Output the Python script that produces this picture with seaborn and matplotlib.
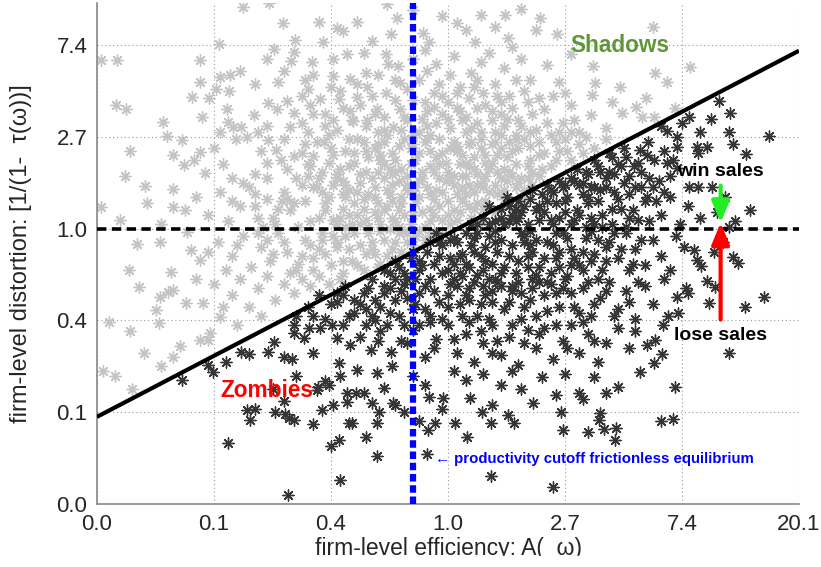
import numpy as np
import pandas as pd
import matplotlib
matplotlib.use("Agg")
import matplotlib.pyplot as plt
import seaborn as sns

# log-units: x = ln A(omega), y = ln 1/(1-tau(omega))
# firms above the cutoff line ("Shadows" side), drawn light gray
light_pts = [
    (-1.75, 2.42), (-1.53, 2.46), (-0.52, 2.45), (-1.41, 2.24), (-1.10, 2.25), (-0.78, 2.25),
    (-0.95, 2.19), (-0.90, 2.15), (-0.44, 2.30), (-0.49, 2.12), (-1.31, 2.06), (-1.07, 2.03),
    (-1.96, 2.01), (0.28, 2.33), (0.49, 2.33), (0.79, 2.30), (0.08, 2.24), (0.15, 2.17),
    (0.93, 2.12), (0.75, 2.17), (0.51, 2.08), (-0.21, 2.13), (0.23, 2.03), (-0.16, 2.03),
    (1.75, 2.20), (-0.30, 2.38), (0.62, 2.40), (-0.65, 2.05), (0.40, 2.20), (-0.05, 2.32),
    (-1.49, 1.96), (-1.32, 1.93), (-1.55, 1.85), (-1.34, 1.83), (-1.16, 1.82), (-0.98, 1.85),
    (-0.86, 1.90), (-0.72, 1.92), (-0.53, 1.90), (-0.51, 1.79), (-0.43, 1.77), (-2.12, 1.84),
    (-2.97, 1.84), (-2.83, 1.84), (-2.12, 1.60), (-1.95, 1.65), (-1.86, 1.68), (-1.78, 1.72),
    (-1.98, 1.52), (-1.87, 1.50), (-1.20, 1.52), (-0.84, 1.63), (-0.98, 1.66), (-1.15, 1.68),
    (-0.69, 1.54), (-0.41, 1.59), (1.24, 1.77), (1.26, 1.59), (2.07, 1.76), (1.77, 1.70),
    (1.87, 1.60), (1.47, 1.54), (-0.20, 1.95), (-0.10, 1.80), (0.05, 1.88), (0.20, 1.70),
    (0.35, 1.92), (0.48, 1.75), (0.62, 1.85), (0.70, 1.62), (0.85, 1.78), (0.95, 1.60),
    (1.05, 1.90), (-0.25, 1.62), (0.10, 1.55), (0.40, 1.58), (-0.60, 1.68), (-1.65, 1.58),
    (-1.40, 1.72), (0.55, 1.98), (-0.30, 1.85), (0.28, 1.82),
    (-2.84, 1.35), (-2.75, 1.30), (-2.44, 1.16), (-2.40, 1.01), (-2.19, 1.44), (-2.04, 1.42),
    (-1.89, 1.30), (-1.88, 1.16), (-1.84, 1.11), (-1.77, 1.11), (-1.66, 1.24), (-1.62, 1.05),
    (-1.54, 1.37), (-1.46, 1.30), (-1.38, 1.39), (-1.32, 1.26), (-1.35, 1.11), (-0.98, 1.19),
    (-0.84, 1.28), (-0.81, 1.17), (-0.69, 1.19), (-0.61, 1.30), (-0.53, 1.48), (-1.09, 1.41),
    (-0.93, 1.41), (-0.78, 1.44), (-0.41, 1.30), (-0.47, 1.11), (1.69, 1.43), (1.61, 1.33),
    (1.49, 1.26), (1.23, 1.46), (1.22, 1.24), (1.76, 1.22), (1.94, 1.32), (1.66, 1.22),
    (-0.30, 1.40), (-0.22, 1.20), (-0.12, 1.33), (-0.05, 1.45), (0.02, 1.10), (0.10, 1.28),
    (0.18, 1.42), (0.25, 1.15), (0.32, 1.35), (0.40, 1.05), (0.45, 1.25), (0.52, 1.45),
    (0.60, 1.18), (0.68, 1.38), (0.75, 1.08), (0.82, 1.30), (0.90, 1.45), (0.98, 1.15),
    (1.05, 1.35), (1.12, 1.05), (1.35, 1.10), (1.40, 1.38), (-0.15, 1.02), (-0.35, 1.18),
    (0.08, 1.48), (0.30, 1.48), (0.58, 1.02), (0.88, 1.02), (1.00, 1.48), (-1.20, 1.05),
    (-1.05, 1.25), (-0.60, 1.05), (-1.18, 1.35), (-0.25, 1.05), (0.15, 1.05), (0.72, 1.25),
    (-2.10, 1.22), (-1.95, 1.05),
    (-2.72, 0.85), (-2.76, 0.57), (-2.35, 0.80), (-2.27, 0.97), (-2.26, 0.69), (-2.17, 0.75),
    (-2.12, 0.84), (-2.08, 0.61), (-1.92, 0.70), (-1.81, 0.98), (-1.72, 1.00), (-1.54, 0.97),
    (-1.47, 0.86), (-1.43, 0.75), (-1.32, 0.79), (-1.22, 0.92), (-1.15, 0.79), (-1.18, 0.68),
    (-1.06, 0.94), (-0.95, 0.60), (-0.88, 0.85), (-0.80, 0.72), (-0.72, 0.95), (-0.65, 0.55),
    (-0.58, 0.80), (-0.50, 0.65), (-0.42, 0.90), (-0.35, 0.58), (-0.28, 0.75), (-0.20, 0.95),
    (-0.12, 0.62), (-0.05, 0.82), (0.02, 0.55), (0.10, 0.70), (0.18, 0.92), (0.25, 0.60),
    (0.32, 0.80), (0.40, 0.95), (0.48, 0.65), (0.55, 0.85), (0.62, 0.55), (0.70, 0.75),
    (0.78, 0.95), (0.88, 0.68), (0.95, 0.85), (1.05, 0.75), (1.12, 0.92), (1.25, 0.88),
    (1.35, 0.98), (-1.65, 0.60), (-1.55, 0.72), (-1.85, 0.55), (-2.00, 0.88), (-1.02, 0.72),
    (-0.90, 0.52), (-0.75, 0.60), (-0.62, 0.88), (-0.45, 0.75), (-0.38, 0.98), (-0.25, 0.52),
    (-0.15, 0.85), (0.05, 0.95), (0.15, 0.58), (0.22, 0.78), (0.35, 0.65), (0.45, 0.88),
    (0.58, 0.70), (0.65, 0.98), (0.72, 0.62), (0.82, 0.82), (1.00, 0.98), (-0.55, 0.95),
    (-0.85, 0.98), (-1.30, 0.55), (-1.10, 0.55), (0.30, 0.52), (0.50, 0.52), (-0.08, 0.70),
    (-2.59, 0.47), (-2.35, 0.43), (-2.97, 0.24), (-2.35, 0.24), (-2.57, 0.28), (-2.80, 0.10),
    (-2.45, 0.05), (-2.15, 0.35), (-2.05, 0.15), (-1.95, 0.40), (-1.88, 0.08), (-1.78, 0.25),
    (-1.70, 0.45), (-1.62, 0.12), (-1.55, 0.32), (-1.48, 0.05), (-1.40, 0.40), (-1.35, 0.20),
    (-1.28, 0.02), (-1.22, 0.30), (-1.15, 0.45), (-1.10, 0.12), (-1.02, 0.35), (-0.95, 0.05),
    (-0.90, 0.22), (-0.85, 0.42), (-0.78, 0.15), (-0.72, 0.32), (-0.68, 0.02), (-0.62, 0.45),
    (-0.55, 0.20), (-0.50, 0.38), (-0.45, 0.08), (-0.40, 0.28), (-0.35, 0.48), (-0.30, 0.15),
    (-0.25, 0.35), (-0.20, 0.02), (-0.15, 0.22), (-0.10, 0.42), (-0.05, 0.10), (0.00, 0.30),
    (0.05, 0.48), (0.10, 0.18), (0.15, 0.38), (0.20, 0.12), (0.25, 0.28), (0.30, 0.45),
    (0.35, 0.25), (0.42, 0.38), (0.50, 0.32), (0.58, 0.45), (0.65, 0.42), (0.72, 0.48),
    (-1.85, 0.30), (-1.65, 0.38), (-1.45, 0.22), (-1.25, 0.48), (-1.05, 0.20), (-0.82, 0.05),
    (-0.60, 0.28), (-0.38, 0.15), (-0.18, 0.45), (0.02, 0.05), (0.18, 0.48), (0.40, 0.18),
    (-2.25, 0.20), (-1.58, 0.02), (-0.98, 0.48), (-0.48, 0.48), (0.28, 0.08),
    (-2.66, -0.17), (-2.46, -0.14), (-2.20, -0.23), (-2.12, -0.34), (-1.97, -0.15), (-2.23, -0.04),
    (-2.37, -0.47), (-2.73, -0.45), (-1.85, -0.30), (-1.75, -0.08), (-1.68, -0.42), (-1.60, -0.20),
    (-1.52, -0.35), (-1.45, -0.05), (-1.38, -0.25), (-1.30, -0.45), (-1.22, -0.12), (-1.15, -0.32),
    (-1.08, -0.05), (-1.00, -0.40), (-0.95, -0.20), (-0.88, -0.08), (-0.82, -0.35), (-0.75, -0.18),
    (-0.68, -0.05), (-0.62, -0.28), (-0.55, -0.12), (-0.48, -0.22), (-0.42, -0.05), (-0.35, -0.15),
    (-0.28, -0.08), (-0.20, -0.12), (-0.12, -0.04), (-0.05, -0.06), (-0.72, -0.45), (-0.90, -0.48),
    (-1.10, -0.22), (-1.35, -0.48), (-1.55, -0.12), (-1.90, -0.45), (-2.05, -0.25), (-0.58, -0.38),
    (-0.40, -0.25), (-1.25, -0.30),
    (-2.64, -0.64), (-2.39, -0.69), (-2.46, -0.74), (-2.50, -0.89), (-2.35, -0.67), (-2.24, -0.81),
    (-2.09, -0.81), (-1.95, -0.96), (-2.00, -0.60), (-1.85, -0.72), (-1.78, -0.55), (-1.70, -0.85),
    (-1.62, -0.65), (-1.55, -0.52), (-1.48, -0.78), (-1.40, -0.60), (-1.32, -0.70), (-1.25, -0.55),
    (-1.18, -0.62), (-1.10, -0.52), (-1.02, -0.60), (-0.92, -0.55), (-1.60, -0.95), (-2.15, -0.55),
    (-1.92, -0.85),
    (-2.90, -1.02), (-2.72, -1.12), (-2.47, -1.03), (-2.29, -1.28), (-2.12, -1.21), (-2.05, -1.21),
    (-2.03, -1.14), (-1.80, -1.05), (-2.60, -1.35), (-2.85, -1.60), (-2.45, -1.50), (-2.70, -1.75),
    (-2.95, -1.55), (-2.35, -1.40),
]

# extra light points where the gray cloud is densest
light_core = [
    (-1.25, 1.45), (-1.00, 1.55), (-0.75, 1.35), (-0.55, 1.22), (-0.35, 1.52), (-0.18, 1.28),
    (0.00, 1.38), (0.12, 1.18), (0.22, 1.55), (0.38, 1.28), (0.55, 1.32), (0.65, 1.50),
    (-0.45, 1.40), (-0.65, 1.45), (-0.90, 1.32), (-0.08, 1.58), (0.48, 1.12), (0.78, 1.42),
    (-1.45, 1.60), (-1.22, 1.62), (-0.92, 1.50), (-0.70, 1.70), (-0.45, 1.62), (-0.18, 1.72),
    (0.02, 1.68), (0.25, 1.62), (0.42, 1.45), (0.58, 1.62), (-0.12, 1.48), (-0.78, 1.58),
    (-1.40, 0.98), (-1.25, 1.15), (-1.12, 0.95), (-0.95, 1.08), (-0.78, 0.98), (-0.70, 1.12),
    (-0.52, 1.02), (-0.40, 1.08), (-0.30, 0.92), (-0.18, 1.12), (-0.08, 0.98), (0.00, 1.20),
    (0.08, 0.90), (0.20, 1.10), (0.28, 0.98), (0.38, 1.18), (0.52, 0.95), (0.62, 1.12),
    (0.70, 0.90), (0.85, 1.15), (0.95, 1.05), (1.08, 1.18), (1.18, 1.00), (-1.55, 1.12),
    (-1.05, 1.12), (-0.60, 0.92), (0.15, 1.22), (0.45, 1.02),
    (-1.60, 0.85), (-1.38, 0.65), (-1.25, 0.82), (-1.08, 0.62), (-0.98, 0.80), (-0.85, 0.68),
    (-0.70, 0.85), (-0.60, 0.62), (-0.48, 0.82), (-0.40, 0.65), (-0.32, 0.88), (-0.22, 0.62),
    (-0.10, 0.78), (0.00, 0.62), (0.08, 0.85), (0.18, 0.68), (0.28, 0.88), (0.38, 0.72),
    (0.50, 0.78), (0.60, 0.88), (0.68, 0.68), (0.78, 0.80), (0.92, 0.75), (1.02, 0.85),
    (1.15, 0.82), (-0.80, 0.82), (-0.55, 0.70), (-0.15, 0.68), (0.12, 0.80), (0.42, 0.62),
    (-1.75, 0.50), (-1.55, 0.55), (-1.38, 0.32), (-1.20, 0.58), (-1.08, 0.40), (-0.95, 0.55),
    (-0.88, 0.35), (-0.75, 0.50), (-0.68, 0.38), (-0.55, 0.55), (-0.48, 0.30), (-0.42, 0.52),
    (-0.30, 0.38), (-0.22, 0.55), (-0.12, 0.32), (-0.02, 0.52), (0.08, 0.38), (0.12, 0.58),
    (0.22, 0.40), (0.32, 0.58), (0.40, 0.48), (0.48, 0.42), (0.55, 0.58), (0.62, 0.35),
    (0.68, 0.55), (0.78, 0.58), (-0.62, 0.35), (-0.35, 0.42), (-0.05, 0.40), (0.25, 0.48),
    (-1.65, 0.25), (-1.50, 0.12), (-1.32, 0.28), (-1.18, 0.08), (-1.05, 0.28), (-0.92, 0.12),
    (-0.80, 0.28), (-0.70, 0.10), (-0.58, 0.05), (-0.52, 0.25), (-0.42, 0.20), (-0.32, 0.05),
    (-0.28, 0.28), (-0.15, 0.08), (-0.08, 0.25), (0.05, 0.20), (0.12, 0.30), (0.22, 0.22),
    (0.32, 0.30), (0.08, 0.10), (-0.48, 0.12), (-0.62, 0.18), (-0.88, 0.02), (-1.42, 0.30),
    (-1.40, -0.15), (-1.28, -0.38), (-1.18, -0.18), (-1.05, -0.28), (-0.98, -0.08), (-0.85, -0.22),
    (-0.78, -0.40), (-0.70, -0.28), (-0.65, -0.15), (-0.58, -0.02), (-0.52, -0.30), (-0.45, -0.15),
    (-0.38, -0.02), (-0.30, -0.18), (-0.25, -0.02), (-0.15, -0.08), (-0.60, -0.42), (-0.90, -0.35),
    (-1.15, -0.45), (-1.50, -0.28), (-1.62, -0.05), (-1.80, -0.18),
]

# the nearly solid gray patch left of and above the crossing point
light_dense = [
    (-1.15, 1.25), (-1.00, 0.88), (-0.85, 0.15), (-0.70, 0.62), (-0.55, 1.08), (-0.40, 0.35),
    (-0.25, 0.82), (-0.10, 1.15), (0.05, 0.58), (0.20, 0.95), (0.35, 0.40), (0.50, 1.20),
    (-1.12, 0.45), (-0.98, 0.10), (-0.82, 1.18), (-0.68, 0.78), (-0.52, 0.42), (-0.38, 1.22),
    (-0.22, 0.18), (-0.08, 0.55), (0.08, 1.32), (0.22, 0.65), (0.38, 0.92), (0.52, 0.62),
    (-1.08, -0.12), (-0.92, 0.65), (-0.78, 0.40), (-0.62, 1.25), (-0.48, 0.60), (-0.32, 0.70),
    (-0.18, 0.98), (-0.02, 0.72), (0.12, 0.45), (0.28, 1.05), (0.42, 0.80), (0.58, 0.98),
    (-1.20, 0.70), (-1.02, 1.02), (-0.88, 0.48), (-0.72, 0.22), (-0.58, 0.75), (-0.42, 0.02),
    (-0.28, 0.45), (-0.12, 0.15), (0.02, 0.88), (0.18, 0.25), (0.32, 0.72), (0.48, 0.32),
    (-0.95, -0.15), (-0.80, -0.05), (-0.65, -0.22), (-0.50, 0.00), (-0.35, -0.05), (-0.60, 0.12),
    (-0.75, 0.05), (-0.90, 0.38), (-0.45, 0.62), (-0.30, 1.02), (-0.15, 0.38), (0.00, 0.15),
    (0.15, 0.72), (0.30, 0.22), (0.45, 0.55), (0.60, 0.50), (0.70, 1.05), (0.80, 0.65),
    (0.92, 0.95), (1.05, 1.05), (-0.05, 1.25), (-0.20, 1.38), (0.25, 1.32), (0.45, 1.38),
]

# firms below the cutoff line ("Zombies" side), drawn dark
dark_pts = [
    (2.32, 1.39), (2.41, 1.26), (2.06, 1.22), (2.40, 1.05), (2.74, 1.01), (2.44, 0.92),
    (2.55, 0.81), (1.87, 1.06), (1.96, 1.00), (1.96, 0.89), (2.13, 0.89), (2.21, 0.89),
    (2.14, 0.83), (1.71, 0.94), (1.64, 0.86), (1.59, 0.68), (1.76, 0.75), (1.87, 0.72),
    (1.96, 0.66), (1.40, 0.78), (1.20, 0.60), (1.05, 0.55), (1.30, 0.62), (1.50, 0.88),
    (1.82, 1.12), (2.00, 1.15), (2.25, 1.20), (2.15, 1.05), (1.10, 0.65), (1.25, 0.75),
    (1.35, 0.55), (1.45, 0.70), (1.55, 0.58), (1.65, 0.62), (1.70, 0.80), (1.80, 0.52),
    (1.90, 0.58),
    (2.06, 0.46), (2.14, 0.46), (2.26, 0.45), (2.37, 0.35), (0.20, 0.05), (0.30, 0.12),
    (0.40, 0.08), (0.45, 0.22), (0.55, 0.15), (0.60, 0.30), (0.68, 0.05), (0.75, 0.20),
    (0.80, 0.38), (0.88, 0.10), (0.92, 0.28), (0.98, 0.45), (1.05, 0.05), (1.10, 0.20),
    (1.15, 0.38), (1.22, 0.12), (1.28, 0.30), (1.35, 0.45), (1.40, 0.05), (1.48, 0.22),
    (1.55, 0.38), (1.62, 0.10), (1.68, 0.30), (1.75, 0.45), (1.82, 0.15), (1.90, 0.35),
    (1.98, 0.05), (2.05, 0.25), (2.15, 0.12), (2.30, 0.18), (2.45, 0.08), (2.58, 0.20),
    (0.50, 0.35), (0.72, 0.42), (1.00, 0.18), (1.18, 0.02), (1.52, 0.02), (1.85, 0.40),
    (0.35, 0.25), (0.85, 0.48), (1.42, 0.40), (2.40, 0.02),
    (2.44, -0.31), (2.48, -0.37), (2.16, -0.41), (2.27, -0.25), (2.10, -0.23), (2.13, -0.34),
    (-0.55, -0.45), (-0.45, -0.35), (-0.38, -0.48), (-0.30, -0.25), (-0.22, -0.40), (-0.15, -0.15),
    (-0.08, -0.30), (0.00, -0.45), (0.05, -0.10), (0.12, -0.28), (0.18, -0.42), (0.25, -0.05),
    (0.32, -0.20), (0.38, -0.38), (0.45, -0.12), (0.52, -0.30), (0.58, -0.48), (0.65, -0.08),
    (0.72, -0.25), (0.78, -0.42), (0.85, -0.15), (0.92, -0.32), (0.98, -0.05), (1.05, -0.22),
    (1.12, -0.40), (1.18, -0.10), (1.25, -0.28), (1.32, -0.45), (1.38, -0.15), (1.45, -0.32),
    (1.52, -0.05), (1.60, -0.22), (1.68, -0.40), (1.75, -0.12), (1.82, -0.30), (1.90, -0.45),
    (1.95, -0.08), (2.02, -0.20), (-0.10, -0.05), (0.20, -0.18), (0.60, -0.35), (0.88, -0.48),
    (1.22, -0.02), (1.55, -0.45), (0.40, -0.02), (-0.32, -0.32), (2.35, -0.15), (0.10, -0.48),
    (2.54, -0.85), (2.23, -0.81), (2.21, -0.57), (2.28, -0.63), (2.03, -0.65), (2.05, -0.70),
    (1.96, -0.74), (1.97, -0.92), (-1.30, -0.95), (-1.20, -0.85), (-1.10, -0.72), (-1.05, -0.98),
    (-0.95, -0.80), (-0.88, -0.62), (-0.80, -0.92), (-0.72, -0.70), (-0.65, -0.55), (-0.58, -0.85),
    (-0.50, -0.65), (-0.42, -0.95), (-0.35, -0.75), (-0.28, -0.55), (-0.20, -0.88), (-0.12, -0.68),
    (-0.05, -0.98), (0.02, -0.60), (0.10, -0.82), (0.18, -0.65), (0.25, -0.95), (0.32, -0.72),
    (0.40, -0.55), (0.48, -0.88), (0.55, -0.68), (0.62, -0.98), (0.70, -0.78), (0.78, -0.58),
    (0.85, -0.90), (0.92, -0.70), (1.00, -0.55), (1.08, -0.85), (1.15, -0.65), (1.22, -0.95),
    (1.30, -0.75), (1.38, -0.58), (1.45, -0.88), (1.52, -0.68), (1.60, -0.98), (1.68, -0.62),
    (1.75, -0.82), (1.85, -0.55), (2.70, -0.74), (0.35, -0.98), (-0.65, -0.95), (1.88, -0.95),
    (0.75, -0.95),
    (2.40, -1.35), (1.84, -1.05), (1.70, -1.27), (1.77, -1.21), (1.83, -1.37), (1.76, -1.46),
    (-1.77, -1.34), (-1.70, -1.37), (-1.54, -1.34), (-1.40, -1.40), (-1.33, -1.42), (-1.49, -1.23),
    (-1.32, -1.14), (-1.23, -1.19), (-1.15, -1.35), (-1.32, -1.05), (-1.19, -1.08), (-1.09, -1.08),
    (-0.99, -1.05), (-0.95, -1.19), (-0.84, -1.27), (-0.75, -1.18), (-0.66, -1.32), (-0.49, -1.34),
    (-0.48, -1.50), (-0.93, -1.46), (-0.30, -1.10), (-0.20, -1.40), (-0.10, -1.20), (0.00, -1.05),
    (0.08, -1.35), (0.15, -1.15), (0.22, -1.45), (0.30, -1.25), (0.38, -1.05), (0.45, -1.38),
    (0.52, -1.18), (0.60, -1.48), (0.68, -1.10), (0.75, -1.30), (0.82, -1.08), (0.90, -1.42),
    (0.98, -1.22), (1.05, -1.05), (1.12, -1.35), (1.20, -1.15), (1.28, -1.45), (1.35, -1.25),
    (1.45, -1.08), (1.55, -1.30), (1.60, -1.12), (-0.40, -1.22), (-0.58, -1.12), (-1.90, -1.45),
    (-2.05, -1.48),
    (-2.27, -1.65), (-2.01, -1.56), (-0.61, -1.57), (-0.78, -1.54), (-0.92, -1.61), (-1.05, -1.66),
    (-1.12, -1.76), (-0.86, -1.79), (-0.79, -1.79), (-0.72, -1.79), (-1.11, -1.72), (-1.02, -1.70),
    (-0.98, -1.92), (-0.86, -1.89), (-0.55, -1.74), (-0.47, -1.90), (-0.65, -1.90), (-0.45, -1.92),
    (-1.72, -1.98), (-1.65, -1.97), (-1.08, -1.98), (1.45, -1.72), (1.35, -1.79), (1.15, -1.86),
    (1.12, -1.79), (0.92, -1.81), (1.64, -1.56), (1.94, -1.72), (0.19, -1.85), (0.38, -1.92),
    (0.73, -1.90), (-0.16, -1.83), (-0.04, -1.85), (-0.05, -1.97), (-0.30, -1.60), (-0.20, -1.70),
    (0.05, -1.55), (0.15, -1.65), (0.30, -1.58), (0.45, -1.70), (0.55, -1.55), (0.62, -1.75),
    (0.80, -1.62), (1.00, -1.58), (1.25, -1.62), (-1.30, -1.60), (-1.50, -1.75), (-1.40, -1.88),
    (-1.88, -2.34), (-1.37, -2.90), (-1.69, -2.08), (-1.48, -2.00), (-1.39, -2.02), (-1.36, -2.06),
    (-1.32, -2.08), (-1.15, -2.13), (-1.00, -2.37), (-0.93, -2.30), (-0.92, -2.74), (-0.85, -2.12),
    (-0.82, -2.12), (-0.70, -2.27), (-0.61, -2.48), (-0.61, -2.12), (-0.59, -2.00), (-0.38, -2.00),
    (0.97, -2.00), (1.30, -2.01), (1.29, -2.08), (1.33, -2.18), (1.44, -2.17), (1.43, -2.30),
    (1.20, -2.21), (0.98, -2.19), (1.82, -2.09), (1.92, -2.07), (0.16, -2.27), (0.37, -2.70),
    (0.90, -2.82), (-0.18, -2.45), (-0.17, -2.19), (-0.11, -2.12), (-0.25, -2.10), (0.06, -2.12),
    (0.37, -2.12), (0.56, -2.12), (0.51, -2.03), (0.29, -2.00),
]

# extra dark points where the dark cloud is densest
dark_core = [
    (1.00, 0.48), (1.15, 0.50), (1.28, 0.68), (1.42, 0.60), (1.52, 0.78), (1.62, 0.72),
    (1.72, 0.55), (1.85, 0.85), (1.92, 0.75), (1.22, 0.45), (0.95, 0.52), (1.38, 0.82),
    (0.25, 0.05), (0.35, 0.05), (0.45, 0.12), (0.52, 0.25), (0.62, 0.18), (0.70, 0.32),
    (0.78, 0.10), (0.85, 0.30), (0.95, 0.12), (1.02, 0.35), (1.08, 0.10), (1.20, 0.28),
    (1.25, 0.45), (1.32, 0.15), (1.45, 0.32), (1.58, 0.20), (1.65, 0.45), (1.72, 0.08),
    (1.78, 0.30), (0.65, 0.25), (0.90, 0.40), (1.12, 0.48), (0.58, 0.08), (1.40, 0.22),
    (-0.50, -0.48), (-0.42, -0.42), (-0.25, -0.35), (-0.18, -0.25), (-0.05, -0.18), (0.02, -0.32),
    (0.08, -0.15), (0.15, -0.38), (0.22, -0.10), (0.28, -0.30), (0.35, -0.08), (0.42, -0.25),
    (0.48, -0.42), (0.55, -0.18), (0.62, -0.05), (0.68, -0.42), (0.75, -0.12), (0.82, -0.32),
    (0.90, -0.18), (0.95, -0.42), (1.02, -0.10), (1.08, -0.32), (1.15, -0.25), (1.28, -0.12),
    (1.35, -0.35), (1.42, -0.05), (1.48, -0.22), (1.58, -0.38), (1.65, -0.12), (0.05, -0.38),
    (0.30, -0.45), (0.70, -0.18),
    (-1.15, -0.95), (-1.00, -0.82), (-0.90, -0.72), (-0.85, -0.95), (-0.75, -0.82), (-0.68, -0.65),
    (-0.62, -0.78), (-0.55, -0.62), (-0.45, -0.78), (-0.38, -0.60), (-0.30, -0.88), (-0.25, -0.70),
    (-0.15, -0.55), (-0.08, -0.80), (0.00, -0.72), (0.05, -0.55), (0.12, -0.95), (0.15, -0.72),
    (0.22, -0.58), (0.28, -0.82), (0.38, -0.68), (0.45, -0.62), (0.52, -0.80), (0.60, -0.58),
    (0.65, -0.85), (0.72, -0.65), (0.82, -0.72), (0.88, -0.60), (0.95, -0.85), (1.05, -0.70),
    (1.12, -0.92), (1.20, -0.58), (1.25, -0.82), (1.35, -0.68), (1.42, -0.95), (1.55, -0.80),
    (1.62, -0.58), (-0.50, -0.92), (-0.95, -0.70),
    (-0.90, -1.05), (-0.70, -1.05), (-0.52, -1.05), (-0.35, -1.25), (-0.25, -1.05), (-0.12, -1.30),
    (0.05, -1.20), (0.18, -1.02), (0.28, -1.12), (0.42, -1.22), (0.55, -1.05), (0.65, -1.25),
    (0.78, -1.15), (0.92, -1.05), (1.02, -1.30), (1.15, -1.02), (1.25, -1.22), (-0.60, -1.22),
    (-0.15, -1.02), (0.38, -1.35),
]

# the nearly solid dark patch just below the crossing point
dark_dense = [
    (-0.35, -0.55), (-0.20, -0.62), (-0.05, -0.48), (0.10, -0.30), (0.25, -0.50), (0.40, -0.15),
    (0.55, -0.62), (0.70, -0.02), (0.85, -0.58), (1.00, 0.30), (1.15, -0.45), (1.30, 0.42),
    (-0.28, -0.82), (-0.12, -0.38), (0.02, -0.12), (0.18, -0.78), (0.32, -0.35), (0.48, 0.05),
    (0.62, -0.70), (0.78, 0.25), (0.92, -0.05), (1.08, 0.52), (1.22, -0.35), (1.38, 0.62),
    (-0.40, -0.68), (-0.25, -0.45), (-0.08, -0.15), (0.08, -0.62), (0.22, -0.25), (0.38, -0.80),
    (0.52, 0.08), (0.68, -0.30), (0.82, 0.18), (0.98, -0.65), (1.12, 0.15), (1.28, -0.55),
    (-0.15, -0.95), (0.00, -0.85), (0.15, -0.05), (0.30, -0.62), (0.45, -0.48), (0.60, 0.12),
    (0.75, -0.50), (0.90, 0.05), (1.05, -0.40), (1.20, 0.35), (1.35, -0.20), (1.50, 0.50),
    (-0.55, -0.70), (-0.70, -0.88), (-0.80, -0.78), (-0.45, -0.55), (-0.62, -1.00), (-0.38, -1.05),
    (0.12, -0.52), (0.42, -0.58), (0.72, -0.55), (1.02, -0.52), (1.32, 0.02), (1.55, 0.12),
    (0.58, 0.22), (0.88, 0.42), (1.18, 0.62), (1.48, 0.68), (1.60, 0.45), (1.70, 0.35),
    (0.35, -0.55), (0.65, -0.15), (0.95, -0.25), (1.25, 0.05),
]

# cutoff line end points, frictionless cutoff, arrows
cut_x = [-3.0, 3.0]
cut_y = [-2.05, 1.94]
frictionless_x = -0.30
arrow_x = 2.33
arrow_tip = 0.065
win_from = 0.47
lose_from = -0.99
ticks_x = [-3, -2, -1, 0, 1, 2, 3]
ticks_y = [-3, -2, -1, 0, 1, 2]

light = pd.DataFrame(light_pts + light_core + light_dense, columns=["x", "y"])
dark = pd.DataFrame(dark_pts + dark_core + dark_dense, columns=["x", "y"])

sns.set_style("white")
plt.rcParams['font.family'] = ['Liberation Sans', 'DejaVu Sans']

fig = plt.figure(figsize=(8.21, 5.67), dpi=100)
ax = fig.add_axes([97 / 821, 63 / 567, 702 / 821, 501 / 567])

star = (8, 2, 0)
sns.scatterplot(data=light, x="x", y="y", ax=ax, marker=star, s=64,
                color="#c4c4c4", linewidth=1.0, zorder=2)
sns.scatterplot(data=dark, x="x", y="y", ax=ax, marker=star, s=64,
                color="#353535", linewidth=1.0, zorder=3)

ax.plot(cut_x, cut_y, color="black", lw=3, zorder=5, solid_capstyle="butt")
ax.axhline(0, color="black", lw=2.6, dashes=(2.6, 1.5), zorder=6)
ax.axvline(frictionless_x, color="#0000ff", lw=4.5, dashes=(1.2, 0.6), zorder=7)

ax.set_xlim(-3, 3)
ax.set_ylim(-3, 2.46)
ax.set_xticks(ticks_x)
ax.set_yticks(ticks_y)
ax.set_xticklabels([f"{np.exp(t):.1f}" for t in ticks_x], fontsize=16)
ax.set_yticklabels([f"{np.exp(t):.1f}" for t in ticks_y], fontsize=16)
ax.tick_params(direction="in", length=4, color="#888888", pad=7)
ax.grid(True, linestyle=(0, (1, 2.5)), color="#999999", lw=0.8)
for s in ["top", "right"]:
    ax.spines[s].set_visible(False)
for s in ["left", "bottom"]:
    ax.spines[s].set_color("#888888")
    ax.spines[s].set_linewidth(1.2)

ax.set_xlabel("firm-level efficiency: A(  ω)", fontsize=16.5, labelpad=2)
ax.set_ylabel("firm-level distortion: [1/(1-  τ(ω))]", fontsize=17)
ax.yaxis.set_label_coords(-0.093, 0.5)

ax.text(1.47, 2.0, "Shadows", color="#5f9638", fontsize=16.3, fontweight="bold",
        ha="center", va="center", zorder=8)
ax.text(-1.55, -1.76, "Zombies", color="#ff0000", fontsize=16.3, fontweight="bold",
        ha="center", va="center", zorder=8)
ax.text(arrow_x, 0.62, "win sales", color="black", fontsize=14, fontweight="bold",
        ha="center", va="center", zorder=8)
ax.text(arrow_x, -1.16, "lose sales", color="black", fontsize=14, fontweight="bold",
        ha="center", va="center", zorder=8)
ax.text(-0.11, -2.51, "← productivity cutoff frictionless equilibrium", color="#0000ff",
        fontsize=10.8, fontweight="bold", ha="left", va="center", zorder=8)

head = "-|>,head_length=0.65,head_width=0.27"
ax.annotate("", xy=(arrow_x, arrow_tip), xytext=(arrow_x, win_from),
            arrowprops=dict(arrowstyle=head, color="#22ee22", lw=3, mutation_scale=20,
                            shrinkA=0, shrinkB=0), zorder=9)
ax.annotate("", xy=(arrow_x, arrow_tip), xytext=(arrow_x, lose_from),
            arrowprops=dict(arrowstyle=head, color="#ff0000", lw=3, mutation_scale=20,
                            shrinkA=0, shrinkB=0), zorder=9)

# bottom of the original image is clipped through the x label
fig.patches.append(plt.Rectangle((0, 0), 1, 11 / 567, transform=fig.transFigure,
                                 color="white", zorder=20))

fig.savefig("out.png", dpi=100)
